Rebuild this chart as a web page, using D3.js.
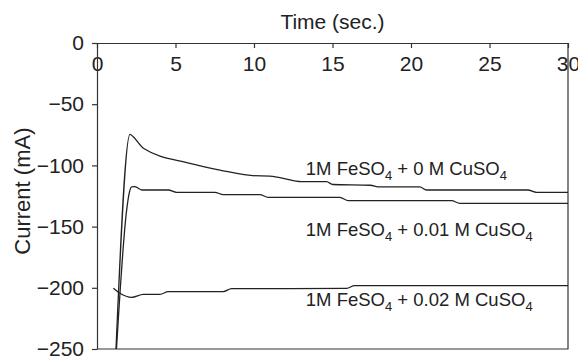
<!DOCTYPE html>
<html>
<head>
<meta charset="utf-8">
<script src="https://cdn.jsdelivr.net/npm/d3@7"></script>
<style>
  body { margin: 0; background: #fff; }
  svg { display: block; font-family: "Liberation Sans", Arial, Helvetica, sans-serif; }
</style>
</head>
<body>
<svg id="chart"></svg>
<script>
// data (time in s, current in mA)
const xTicks = [0, 5, 10, 15, 20, 25, 30];
const yTicks = [0, -50, -100, -150, -200, -250];

const t0 = [1.21, 2.10, 2.31, 2.95, 5.92, 7.83, 9.93, 11.0, 11.65, 13.03, 14.62, 15.02, 17.4, 18.0, 20.56, 20.99, 27.44, 27.99, 30];
const i0 = [-250, -74.6, -76.6, -86.0, -98.3, -103.8, -108.4, -108.7, -110.0, -113.3, -113.3, -115.6, -116.2, -117.6, -117.6, -120.1, -120.1, -122.0, -122.0];

const t1 = [1.24, 1.89, 2.07, 2.20, 2.42, 2.85, 4.54, 5.07, 7.51, 8.04, 10.38, 10.90, 15.47, 16.0, 22.58, 23.11, 30];
const i1 = [-250, -136.4, -121.7, -117.6, -117.4, -120.1, -120.1, -122.0, -122.0, -123.9, -123.9, -126.1, -126.1, -128.8, -128.8, -131.0, -131.0];

const t2 = [1.04, 1.46, 2.21, 2.95, 4.01, 4.54, 8.04, 8.57, 15.9, 16.4, 30];
const i2 = [-200.4, -204.5, -207.8, -205.3, -205.3, -203.2, -203.2, -200.7, -200.5, -198.2, -198.2];

const seriesLabels = [
  { main: "1M FeSO", sub: "4", rest: " + 0 M CuSO" },
  { main: "1M FeSO", sub: "4", rest: " + 0.01 M CuSO" },
  { main: "1M FeSO", sub: "4", rest: " + 0.02 M CuSO" }
];
const labelAt = [[13.3, -107.8], [13.3, -158], [13.3, -214.5]];

const width = 578, height = 356;
const margin = { top: 43, right: 10, bottom: 7, left: 97 };

const svg = d3.select('#chart')
  .attr('width', width)
  .attr('height', height);

const x = d3.scaleLinear().domain([0, 30]).range([margin.left, width - margin.right]);
const y = d3.scaleLinear().domain([0, -250]).range([margin.top, height - margin.bottom]);

const ink = '#222';

// frame (right and bottom sides)
svg.append('path')
  .attr('fill', 'none')
  .attr('stroke', '#333')
  .attr('stroke-width', 1.2)
  .attr('d', `M${x(30)},${y(0)}V${y(-250)}H${x(0)}`);

// x axis along the top, ticks pointing into the plot
const xAxis = svg.append('g')
  .attr('transform', `translate(0,${y(0)})`)
  .call(d3.axisBottom(x).tickValues(xTicks).tickSize(5).tickPadding(8).tickSizeOuter(0));

// y axis
const yAxis = svg.append('g')
  .attr('transform', `translate(${x(0)},0)`)
  .call(d3.axisLeft(y).tickValues(yTicks).tickSize(5).tickPadding(8).tickSizeOuter(0));

[xAxis, yAxis].forEach(g => {
  g.selectAll('path, line').attr('stroke', '#333').attr('stroke-width', 1.2);
  g.selectAll('text').attr('fill', ink).style('font-size', '21px')
    .style('font-family', '"Liberation Sans", Arial, sans-serif');
});

// axis titles
svg.append('text')
  .attr('x', x(15))
  .attr('y', 29)
  .attr('text-anchor', 'middle')
  .attr('fill', ink)
  .style('font-size', '21px')
  .text('Time (sec.)');

svg.append('text')
  .attr('transform', `translate(30,${y(-121)}) rotate(-90)`)
  .attr('text-anchor', 'middle')
  .attr('fill', ink)
  .style('font-size', '22px')
  .text('Current (mA)');

// curves
const line = d3.line()
  .x(d => x(d[0]))
  .y(d => y(d[1]))
  .curve(d3.curveMonotoneX);

[[t0, i0], [t1, i1], [t2, i2]].forEach(([ts, is]) => {
  svg.append('path')
    .datum(ts.map((t, k) => [t, is[k]]))
    .attr('fill', 'none')
    .attr('stroke', ink)
    .attr('stroke-width', 1.3)
    .attr('d', line);
});

// curve labels
seriesLabels.forEach((lab, k) => {
  const txt = svg.append('text')
    .attr('x', x(labelAt[k][0]))
    .attr('y', y(labelAt[k][1]))
    .attr('fill', ink)
    .style('font-size', '18.5px');
  txt.append('tspan').text(lab.main);
  txt.append('tspan').attr('dy', 5).style('font-size', '13px').text(lab.sub);
  txt.append('tspan').attr('dy', -5).text(lab.rest);
  txt.append('tspan').attr('dy', 5).style('font-size', '13px').text(lab.sub);
});
</script>
</body>
</html>
